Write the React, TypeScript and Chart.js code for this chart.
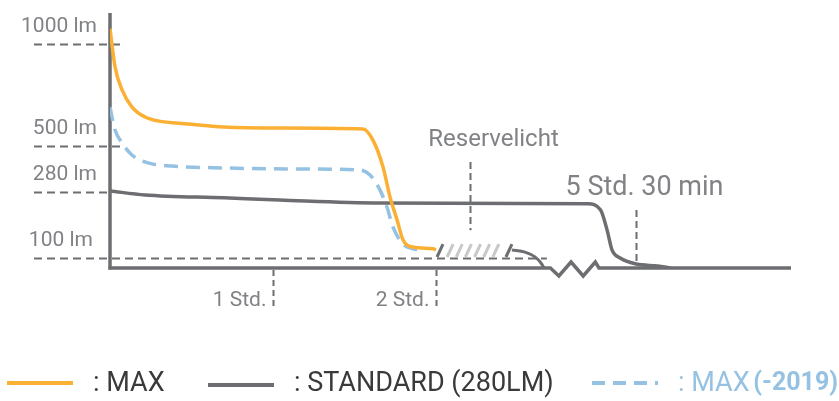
import React, { useEffect, useRef } from "react";
import { Chart, registerables } from "chart.js";

Chart.register(...registerables);

// ---------- data (hours, lumen) ----------
const legendLabels = [": MAX", ": STANDARD (280LM)", ": MAX "];
const legendBoldSuffix = ["", "", "(-2019)"];

const maxHours = [0, 0.031, 0.074, 0.135, 0.215, 0.294, 0.479, 0.699, 1.04, 1.552, 1.613, 1.675, 1.718, 1.761, 1.798, 1.859, 1.982, 2.0];
const maxLumen = [1075, 887, 775, 691, 642, 623, 608, 593, 588, 583, 529, 400, 266, 204, 149, 130, 125, 122];

const standardHours = [0, 0.215, 0.699, 1.04, 1.656, 5.2, 5.28, 5.32, 5.35, 5.4, 5.5, 5.63, 5.71];
const standardLumen = [285, 272, 264, 258, 250, 248, 231, 176, 122, 100, 40, 20, 0];

const oldMaxHours = [0, 0.031, 0.074, 0.135, 0.233, 0.38, 0.699, 1.166, 1.534, 1.595, 1.656, 1.699, 1.736, 1.791, 1.859, 1.92];
const oldMaxLumen = [690, 578, 515, 457, 419, 404, 395, 390, 385, 361, 290, 239, 185, 141, 125, 122];

const reserveTailHours = [2.466, 2.546, 2.607, 2.644, 2.663];
const reserveTailLumen = [122, 116, 103, 50, 0];

const reserveStart = 2.0;
const reserveEnd = 2.466;
const reserveTop = 138;
const reserveBottom = 100;
const reserveMark = 2.21;
const reserveLabel = "Reservelicht";
const endMark = 5.5;
const endLabel = "5 Std. 30 min";

const hourTicks = [1, 2];
const hourTickLabels = ["1 Std.", "2 Std."];

const lumenTicks = [1000, 500, 280, 100];
const lumenTickLabels = ["1000 lm", "500 lm", "280 lm", "100 lm"];

const breakFromHours = 2.72;
const breakToHours = 5.27;
const axisEndHours = 6.45;

// ---------- schematic axis mappings ----------
const xKnotsReal = [0, 2.7, 5.2, 6.45];
const xKnotsDisp = [0, 2.7, 2.93, 4.178];
const yKnotsReal = [0, 100, 280, 500, 1000, 1150];
const yKnotsDisp = [0, 10, 76, 122, 224, 254.6];

function interp(v: number, a: number[], b: number[]) {
  for (let i = 0; i < a.length - 1; i++) {
    if (v <= a[i + 1] || i === a.length - 2) {
      const t = (v - a[i]) / (a[i + 1] - a[i]);
      return b[i] + t * (b[i + 1] - b[i]);
    }
  }
  return b[b.length - 1];
}
const toDX = (h: number) => interp(h, xKnotsReal, xKnotsDisp);
const toDY = (lm: number) => interp(lm, yKnotsReal, yKnotsDisp);
const pts = (hs: number[], ls: number[]) => hs.map((h, i) => ({ x: toDX(h), y: toDY(ls[i]) }));

// ---------- styles ----------
const ORANGE = "#fbb034";
const GRAY = "#6d6e71";
const BLUE = "#95c2e2";
const TEXT_GRAY = "#808285";
const LEGEND_TEXT = "#3a3a3c";
const HATCH = "#c8c8c8";
const FONT = "Roboto, 'Open Sans', sans-serif";

const decor = {
  id: "decor",
  beforeDatasetsDraw(chart: any) {
    const ctx = chart.ctx as CanvasRenderingContext2D;
    const xs = chart.scales.x;
    const ys = chart.scales.y;
    const px = (h: number) => xs.getPixelForValue(toDX(h));
    const py = (lm: number) => ys.getPixelForValue(toDY(lm));
    const { left, bottom, top } = chart.chartArea;
    ctx.save();

    // lumen reference lines + labels
    const ends = [left + 14, left + 14, left, px(2.68)];
    ctx.strokeStyle = GRAY;
    ctx.lineWidth = 2;
    lumenTicks.forEach((lm, i) => {
      const y = Math.round(py(lm)) + 0.5;
      ctx.setLineDash([8, 5]);
      ctx.beginPath();
      ctx.moveTo(34, y);
      ctx.lineTo(ends[i], y);
      ctx.stroke();
      ctx.setLineDash([]);
      ctx.fillStyle = TEXT_GRAY;
      ctx.font = `21px ${FONT}`;
      ctx.textAlign = "right";
      ctx.textBaseline = "middle";
      ctx.fillText(lumenTickLabels[i], i === 3 ? 93 : 97, y - 18);
    });

    // hour marks below axis
    hourTicks.forEach((h, i) => {
      const x = Math.round(px(h)) + 0.5;
      ctx.setLineDash([6, 4]);
      ctx.beginPath();
      ctx.moveTo(x, bottom + 2);
      ctx.lineTo(x, bottom + 42);
      ctx.stroke();
      ctx.setLineDash([]);
      ctx.fillStyle = TEXT_GRAY;
      ctx.font = `21px ${FONT}`;
      ctx.textAlign = "right";
      ctx.textBaseline = "middle";
      ctx.fillText(hourTickLabels[i], x - 7, bottom + 33);
    });

    // reserve light mark
    {
      const x = Math.round(px(reserveMark)) + 0.5;
      ctx.setLineDash([7, 4]);
      ctx.beginPath();
      ctx.moveTo(x, py(423));
      ctx.lineTo(x, py(176));
      ctx.stroke();
      ctx.setLineDash([]);
      ctx.fillStyle = TEXT_GRAY;
      ctx.font = `24px ${FONT}`;
      ctx.textAlign = "center";
      ctx.textBaseline = "middle";
      ctx.fillText(reserveLabel, x + 23, py(423) - 22);
    }
    // end mark
    {
      const x = Math.round(px(endMark)) + 0.5;
      ctx.setLineDash([7, 4]);
      ctx.beginPath();
      ctx.moveTo(x, py(231));
      ctx.lineTo(x, py(40));
      ctx.stroke();
      ctx.setLineDash([]);
      ctx.fillStyle = TEXT_GRAY;
      ctx.font = `27px ${FONT}`;
      ctx.textAlign = "center";
      ctx.textBaseline = "middle";
      ctx.fillText(endLabel, x + 8, py(231) - 22);
    }

    // axes
    ctx.setLineDash([]);
    ctx.strokeStyle = GRAY;
    ctx.lineWidth = 3.5;
    ctx.lineJoin = "miter";
    ctx.beginPath();
    ctx.moveTo(left, top);
    ctx.lineTo(left, bottom + 1.5);
    ctx.stroke();
    const zs = px(breakFromHours);
    const ze = px(breakToHours);
    const w = (ze - zs) / 4;
    ctx.beginPath();
    ctx.moveTo(left - 1.5, bottom);
    ctx.lineTo(zs, bottom);
    ctx.lineTo(zs + w * 0.7, bottom + 8);
    ctx.lineTo(zs + w * 1.7, bottom - 6);
    ctx.lineTo(zs + w * 2.7, bottom + 8);
    ctx.lineTo(zs + w * 3.7, bottom - 6);
    ctx.lineTo(ze, bottom);
    ctx.lineTo(px(axisEndHours), bottom);
    ctx.stroke();
    ctx.restore();
  },
  afterDatasetsDraw(chart: any) {
    const ctx = chart.ctx as CanvasRenderingContext2D;
    const xs = chart.scales.x;
    const ys = chart.scales.y;
    const px = (h: number) => xs.getPixelForValue(toDX(h));
    const py = (lm: number) => ys.getPixelForValue(toDY(lm));
    const yb = py(reserveBottom) - 1;
    const yt = py(reserveTop);
    const x0 = px(reserveStart);
    const x1 = px(reserveEnd);
    ctx.save();
    ctx.lineWidth = 3;
    ctx.lineCap = "butt";
    ctx.strokeStyle = HATCH;
    const n = 6;
    const step = (x1 - x0 - 12) / (n + 1);
    for (let i = 1; i <= n; i++) {
      const bx = x0 + 2 + step * i;
      ctx.beginPath();
      ctx.moveTo(bx, yb);
      ctx.lineTo(bx + 6, yt);
      ctx.stroke();
    }
    ctx.strokeStyle = GRAY;
    [x0 + 1, x1 - 6].forEach((bx) => {
      ctx.beginPath();
      ctx.moveTo(bx, yb);
      ctx.lineTo(bx + 6, yt);
      ctx.stroke();
    });
    ctx.restore();
  },
  afterDraw(chart: any) {
    const ctx = chart.ctx as CanvasRenderingContext2D;
    const ds = chart.data.datasets;
    const starts = [7, 208, 592];
    const ys = [383, 385, 383];
    ctx.save();
    [0, 1, 2].forEach((i) => {
      const d = ds[i];
      ctx.strokeStyle = d.borderColor;
      ctx.lineWidth = 4;
      ctx.setLineDash(d.borderDash && d.borderDash.length ? [13, 8] : []);
      ctx.beginPath();
      ctx.moveTo(starts[i], ys[i]);
      ctx.lineTo(starts[i] + 66, ys[i]);
      ctx.stroke();
      ctx.setLineDash([]);
      const tx = starts[i] + 86;
      ctx.fillStyle = i === 2 ? BLUE : LEGEND_TEXT;
      ctx.textAlign = "left";
      ctx.textBaseline = "middle";
      ctx.font = `27px ${FONT}`;
      ctx.fillText(legendLabels[i], tx, 384);
      if (legendBoldSuffix[i]) {
        const w = ctx.measureText(legendLabels[i]).width;
        ctx.font = `bold 25px ${FONT}`;
        ctx.fillText(legendBoldSuffix[i], tx + w - 3, 384);
      }
    });
    ctx.restore();
  },
};

export default function App() {
  const ref = useRef<HTMLCanvasElement>(null);
  useEffect(() => {
    if (!ref.current) return;
    const common = {
      pointRadius: 0,
      borderWidth: 3.5,
      fill: false,
      cubicInterpolationMode: "monotone" as const,
      borderCapStyle: "butt" as const,
    };
    const chart = new Chart(ref.current, {
      type: "line",
      data: {
        datasets: [
          { ...common, label: "MAX", data: pts(maxHours, maxLumen), borderColor: ORANGE },
          { ...common, label: "STANDARD (280LM)", data: pts(standardHours, standardLumen), borderColor: GRAY },
          { ...common, label: "MAX (-2019)", data: pts(oldMaxHours, oldMaxLumen), borderColor: BLUE, borderDash: [14, 8] },
          { ...common, label: "Reserve", data: pts(reserveTailHours, reserveTailLumen), borderColor: GRAY, borderWidth: 3 },
        ],
      },
      options: {
        animation: false,
        responsive: false,
        devicePixelRatio: 1,
        layout: { padding: { left: 110, right: 48, top: 13, bottom: 133 } },
        scales: {
          x: { type: "linear", display: false, min: 0, max: toDX(axisEndHours) },
          y: { type: "linear", display: false, min: 0, max: 255 },
        },
        plugins: { legend: { display: false }, tooltip: { enabled: false } },
        elements: { line: { tension: 0 } },
      },
      plugins: [decor],
    });
    return () => chart.destroy();
  }, []);
  return (
    <div style={{ position: "absolute", left: 0, top: 0, width: 839, height: 401, background: "#fff" }}>
      <canvas ref={ref} width={839} height={401} style={{ display: "block", width: 839, height: 401 }} />
    </div>
  );
}
